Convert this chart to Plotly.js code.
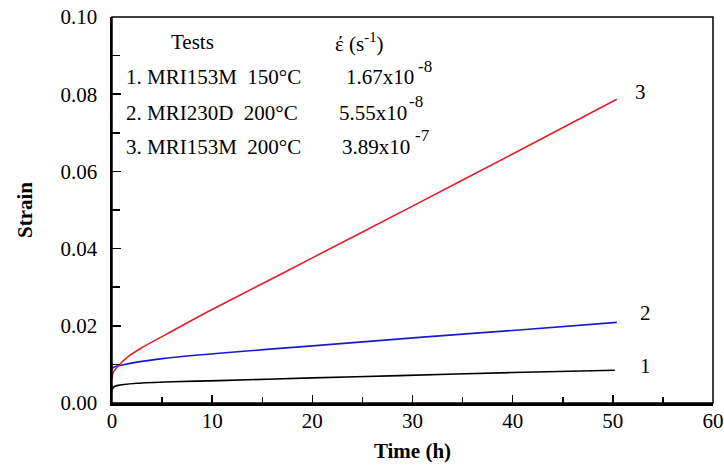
<!DOCTYPE html>
<html>
<head>
<meta charset="utf-8">
<script src="https://cdn.plot.ly/plotly-3.0.1.min.js"></script>
<style>html,body{margin:0;padding:0;background:#fff;}#chart{width:724px;height:466px;}</style>
</head>
<body>
<div id="chart"></div>
<script>
// Test 1: MRI153M 150°C
var time1 = [0, 0.15, 0.5, 2.5, 6, 10.7, 20, 28.7, 40, 50.2];
var strain1 = [0.0033, 0.0041, 0.0045, 0.0051, 0.0055, 0.0058, 0.0065, 0.0071, 0.0079, 0.0085];
// Test 2: MRI230D 200°C
var time2 = [0, 0.1, 0.9, 5, 10.7, 20, 30.7, 40, 50.4];
var strain2 = [0.0087, 0.0092, 0.0098, 0.0115, 0.0129, 0.0148, 0.0170, 0.0188, 0.0209];
// Test 3: MRI153M 200°C
var time3 = [0, 0.1, 0.6, 1.6, 2.9, 6.2, 9.6, 15, 20, 30, 40, 50.4];
var strain3 = [0.0062, 0.0078, 0.0095, 0.0120, 0.0142, 0.0189, 0.0237, 0.0309, 0.0376, 0.0510, 0.0645, 0.0787];

var curveLabels = ["1", "2", "3"];
var tests = ["1. MRI153M\u00a0 150°C", "2. MRI230D\u00a0 200°C", "3. MRI153M\u00a0 200°C"];
var rateBase = ["1.67x10", "5.55x10", "3.89x10"];
var rateExp = ["-8", "-8", "-7"];
var xTicks = [0, 10, 20, 30, 40, 50, 60];
var yTicks = [0, 0.02, 0.04, 0.06, 0.08, 0.10];
var yTickText = ["0.00", "0.02", "0.04", "0.06", "0.08", "0.10"];

var FONT = "'Liberation Serif', 'DejaVu Serif', serif";
var FS = 21;

var traces = [
  {x: time1, y: strain1, mode: "lines", line: {color: "#000000", width: 1.6, shape: "spline", smoothing: 0.6}, hoverinfo: "skip"},
  {x: time2, y: strain2, mode: "lines", line: {color: "#1a1acc", width: 1.6, shape: "spline", smoothing: 0.6}, hoverinfo: "skip"},
  {x: time3, y: strain3, mode: "lines", line: {color: "#e0202c", width: 1.6, shape: "spline", smoothing: 0.6}, hoverinfo: "skip"}
];

var ends = [
  {x: 53.3, y: 0.0095},
  {x: 53.3, y: 0.0233},
  {x: 52.8, y: 0.0805}
];

function txt(x, y, t, size, anchor) {
  return {x: x, y: y, text: t, showarrow: false, xanchor: anchor || "left", yanchor: "middle",
    font: {family: FONT, size: size, color: "#000"}};
}

var annotations = [];
curveLabels.forEach(function (lab, i) {
  annotations.push(txt(ends[i].x, ends[i].y, lab, FS, "center"));
});
annotations.push(txt(5.7, 0.0935, "Tests", FS));
annotations.push(txt(22.1, 0.0935, "έ (s<sup>-1</sup>)", FS));
var rowY = [0.0845, 0.0751, 0.0663];
var rateX = [23.2, 22.5, 22.8];
var expX = [30.3, 29.5, 30.0];
var expY = [0.0873, 0.0782, 0.0694];
tests.forEach(function (t, i) {
  annotations.push(txt(1.2, rowY[i], t, FS));
  annotations.push(txt(rateX[i], rowY[i], rateBase[i], FS));
  annotations.push(txt(expX[i], expY[i], rateExp[i], 17));
});

var layout = {
  width: 724, height: 466,
  margin: {l: 112, r: 11, t: 17, b: 63},
  paper_bgcolor: "#fff", plot_bgcolor: "#fff",
  showlegend: false,
  font: {family: FONT, size: FS, color: "#000"},
  xaxis: {
    range: [0, 60], tickvals: xTicks, ticks: "inside", ticklen: 8, tickwidth: 1.5, tickcolor: "#000",
    minor: {dtick: 5, ticks: "inside", ticklen: 6, tickwidth: 1.5, tickcolor: "#000"},
    showgrid: false, zeroline: false, showline: true, linewidth: 2.5, linecolor: "#000",
    tickfont: {family: FONT, size: FS, color: "#000"}, ticklabelstandoff: -3,
    title: {text: "<b>Time (h)</b>", font: {family: FONT, size: 21, color: "#000"}, standoff: 12}
  },
  yaxis: {
    range: [0, 0.1], tickvals: yTicks, ticktext: yTickText, ticks: "inside", ticklen: 9, tickwidth: 1.5, tickcolor: "#000",
    minor: {dtick: 0.01, ticks: "inside", ticklen: 8, tickwidth: 1.5, tickcolor: "#000"},
    showgrid: false, zeroline: false, showline: true, linewidth: 2.5, linecolor: "#000",
    tickfont: {family: FONT, size: FS, color: "#000"}, ticklabelstandoff: 8,
    title: {text: "<b>Strain</b>", font: {family: FONT, size: 21, color: "#000"}, standoff: 22}
  },
  shapes: [
    {type: "rect", xref: "paper", yref: "paper", x0: 0, x1: 1, y0: 0, y1: 1, line: {color: "#000", width: 1.5}, layer: "above"}
  ],
  annotations: annotations
};

Plotly.newPlot("chart", traces, layout, {displayModeBar: false, staticPlot: true});
</script>
</body>
</html>
